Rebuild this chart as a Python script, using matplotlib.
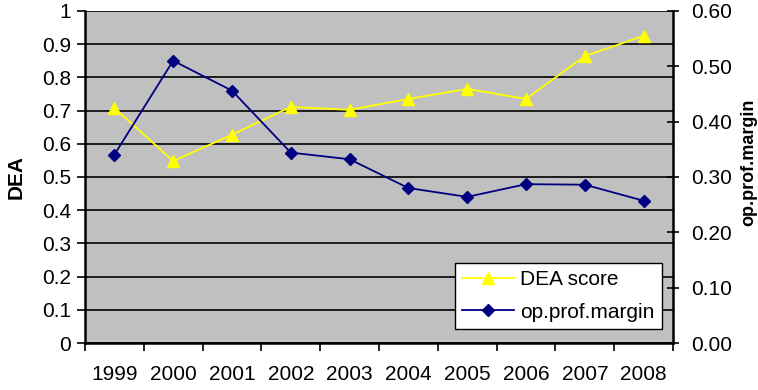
import matplotlib
matplotlib.use("Agg")
import matplotlib.pyplot as plt
from matplotlib.ticker import FormatStrFormatter, FixedLocator, NullFormatter
import numpy as np

years = ["1999", "2000", "2001", "2002", "2003", "2004", "2005", "2006", "2007", "2008"]
dea_score = [0.708, 0.548, 0.627, 0.711, 0.702, 0.735, 0.765, 0.735, 0.864, 0.925]
op_prof_margin = [0.340, 0.510, 0.456, 0.344, 0.332, 0.280, 0.264, 0.287, 0.286, 0.257]

plt.rcParams["font.family"] = ["Liberation Sans", "DejaVu Sans"]
FS = 15

fig = plt.figure(figsize=(7.58, 3.9), dpi=100)
ax = fig.add_axes([0.112, 0.1205, 0.776, 0.8515])
ax2 = ax.twinx()

x = np.arange(len(years))
ax.set_facecolor("#C0C0C0")
ax.set_xlim(-0.5, len(years) - 0.5)
ax.set_ylim(0, 1)
ax.set_yticks(np.arange(0, 1.01, 0.1))
ax.set_yticklabels(["0", "0.1", "0.2", "0.3", "0.4", "0.5", "0.6", "0.7", "0.8", "0.9", "1"])
ax.yaxis.grid(True, color="black", linewidth=1.2)
ax.set_axisbelow(True)

# category ticks sit between years, labels centred under each year
ax.xaxis.set_major_locator(FixedLocator(np.arange(-0.5, len(years), 1.0)))
ax.xaxis.set_major_formatter(NullFormatter())
ax.xaxis.set_minor_locator(FixedLocator(x))
ax.set_xticklabels(years, minor=True)
ax.tick_params(axis="x", which="minor", length=0, labelsize=FS, pad=16)
ax.tick_params(axis="x", which="major", length=6, width=1.2, direction="out")
ax.tick_params(axis="y", labelsize=FS, length=6, width=1.2, direction="out", pad=4)

l1, = ax.plot(x, dea_score, color="#FFFF00", marker="^", markersize=9,
              linewidth=1.3, label="DEA score", zorder=3)

ax2.set_ylim(0, 0.6)
ax2.set_yticks(np.arange(0, 0.61, 0.1))
ax2.yaxis.set_major_formatter(FormatStrFormatter("%.2f"))
ax2.tick_params(axis="y", labelsize=FS, length=8, width=1.2, direction="inout", pad=9)
l2, = ax2.plot(x, op_prof_margin, color="#000080", marker="D", markersize=6.5,
               linewidth=1.3, label="op.prof.margin", zorder=3)

for a in (ax, ax2):
    for side in ("top", "right"):
        a.spines[side].set_visible(False)
    a.spines["left"].set_linewidth(1.8)
    a.spines["bottom"].set_linewidth(1.8)
ax2.spines["left"].set_visible(False)
ax2.spines["bottom"].set_visible(False)
ax2.spines["right"].set_visible(True)
ax2.spines["right"].set_linewidth(1.8)

ax.set_ylabel("DEA", fontsize=FS, fontweight="bold", labelpad=12)
ax2.set_ylabel("op.prof.margin", fontsize=13, fontweight="bold", labelpad=6,
               rotation=90, y=0.545)

leg = ax2.legend(handles=[l1, l2], loc="lower right", bbox_to_anchor=(0.981, 0.042),
                 borderaxespad=0, fontsize=FS, frameon=True, fancybox=False,
                 framealpha=1, edgecolor="black", borderpad=0.35, handlelength=2.5,
                 labelspacing=0.65, handletextpad=0.3)
leg.get_frame().set_linewidth(1.0)

fig.savefig("out.png", dpi=100)
